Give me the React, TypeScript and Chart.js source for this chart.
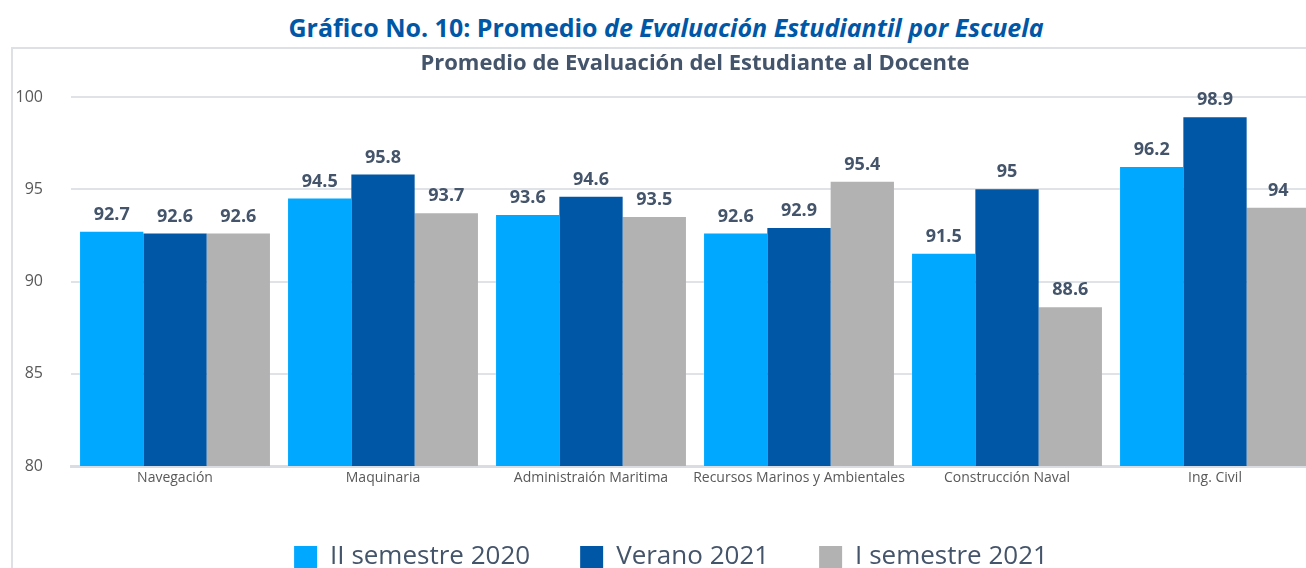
import React, { useEffect, useRef } from "react";
import { Chart, registerables } from "chart.js";

Chart.register(...registerables);

const categories = [
  "Navegación",
  "Maquinaria",
  "Administraión Maritima",
  "Recursos Marinos y Ambientales",
  "Construcción Naval",
  "Ing. Civil",
];
const seriesNames = ["II semestre 2020", "Verano 2021", "I semestre 2021"];
const semestre2020 = [92.7, 94.5, 93.6, 92.6, 91.5, 96.2];
const verano2021 = [92.6, 95.8, 94.6, 92.9, 95, 98.9];
const semestre2021 = [92.6, 93.7, 93.5, 95.4, 88.6, 94];
const yTicks = [80, 85, 90, 95, 100];

const colors = ["#00A8FF", "#0057A6", "#B2B2B2"];
const FONT = "'Open Sans', Lato, sans-serif";

const valueLabels = {
  id: "valueLabels",
  afterDatasetsDraw(chart: any) {
    const ctx = chart.ctx;
    ctx.save();
    ctx.font = `bold 18px ${FONT}`;
    ctx.fillStyle = "#44546A";
    ctx.textAlign = "center";
    ctx.textBaseline = "bottom";
    chart.data.datasets.forEach((ds: any, i: number) => {
      const meta = chart.getDatasetMeta(i);
      meta.data.forEach((el: any, j: number) => {
        ctx.fillText(String(ds.data[j]), el.x, el.y - 8);
      });
    });
    ctx.restore();
  },
};

export default function App() {
  const ref = useRef<HTMLCanvasElement>(null);
  useEffect(() => {
    if (!ref.current) return;
    const chart = new Chart(ref.current, {
      type: "bar",
      data: {
        labels: categories,
        datasets: [semestre2020, verano2021, semestre2021].map((d, i) => ({
          label: seriesNames[i],
          data: d,
          backgroundColor: colors[i],
          borderWidth: 0,
          categoryPercentage: 0.913,
          barPercentage: 1.0,
        })),
      },
      options: {
        responsive: false,
        animation: false,
        layout: { padding: { left: 10, right: 4, top: 0, bottom: 0 } },
        plugins: {
          title: {
            display: true,
            fullSize: false,
            text: "Promedio de Evaluación del Estudiante al Docente",
            color: "#44546A",
            font: { family: FONT, size: 22, weight: "bold", lineHeight: 1.2 },
            padding: { top: 2, bottom: 19.6 },
          },
          legend: {
            position: "bottom",
            labels: {
              boxWidth: 23,
              boxHeight: 22,
              padding: 50,
              color: "#44546A",
              font: { family: FONT, size: 26 },
            },
          },
          tooltip: { enabled: false },
        },
        scales: {
          x: {
            grid: { display: false, drawTicks: false },
            border: { display: true, color: "#D9DDE3", width: 3 },
            ticks: {
              color: "#595959",
              font: { family: FONT, size: 14 },
              padding: 4,
              maxRotation: 0,
              autoSkip: false,
            },
            afterFit(scale: any) {
              scale.height = 28;
            },
          },
          y: {
            min: 80,
            max: 100,
            afterBuildTicks(scale: any) {
              scale.ticks = yTicks.map((v) => ({ value: v }));
            },
            grid: { color: "#DFE3E8", lineWidth: 2, drawTicks: false },
            border: { display: false },
            ticks: {
              color: "#595959",
              font: { family: FONT, size: 16 },
              padding: 28,
            },
            afterFit(scale: any) {
              scale.width = 48;
              scale._computeLabelArea = () => undefined;
            },
          },
        },
      },
      plugins: [valueLabels],
    });
    return () => chart.destroy();
  }, []);

  return (
    <div
      style={{
        position: "fixed",
        left: 0,
        top: 0,
        width: 1306,
        height: 568,
        overflow: "hidden",
        background: "#fff",
      }}
    >
      <div
        style={{
          position: "absolute",
          left: 13,
          top: 12,
          width: 1306,
          textAlign: "center",
          fontFamily: FONT,
          fontWeight: "bold",
          fontSize: 25,
          lineHeight: "30px",
          color: "#0057A6",
          whiteSpace: "nowrap",
        }}
      >
        Gráfico No. 10: Promedio{" "}
        <i>de Evaluación Estudiantil por Escuela</i>
      </div>
      <div
        style={{
          position: "absolute",
          left: 11,
          top: 47,
          width: 1320,
          height: 540,
          borderLeft: "2px solid #DDE1E6",
          borderTop: "2px solid #DDE1E6",
        }}
      >
        <canvas
          ref={ref}
          width={1310}
          height={531}
          style={{ display: "block", width: 1310, height: 531 }}
        />
      </div>
    </div>
  );
}
